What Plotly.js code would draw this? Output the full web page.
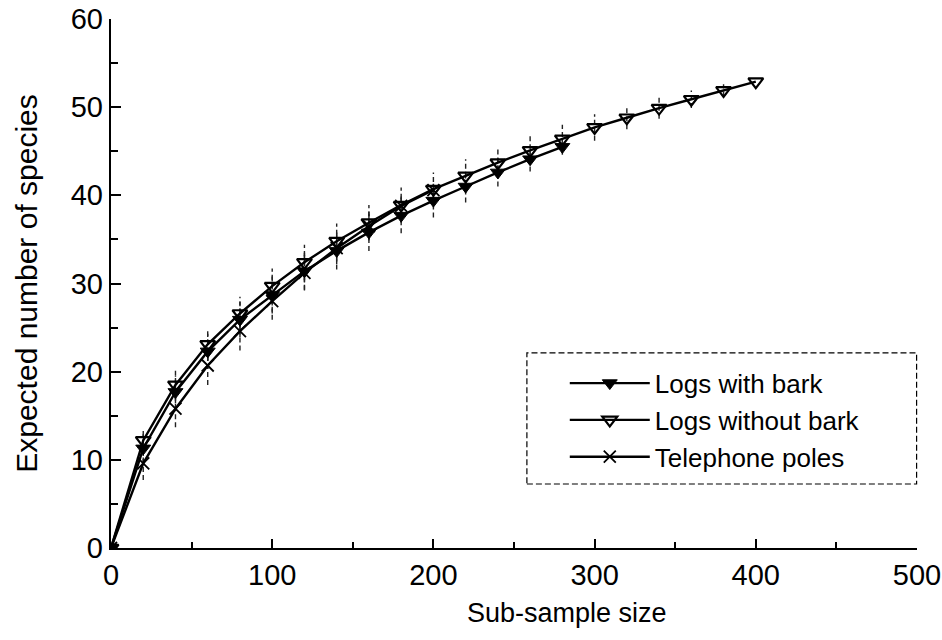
<!DOCTYPE html>
<html>
<head>
<meta charset="utf-8">
<script src="https://cdn.plot.ly/plotly-3.0.1.min.js"></script>
<style>html,body{margin:0;padding:0;background:#fff;}#chart{width:942px;height:640px;}</style>
</head>
<body>
<div id="chart"></div>
<script>
var seriesNames = ["Logs with bark", "Logs without bark", "Telephone poles"];
var xTitle = "Sub-sample size";
var yTitle = "Expected number of species";

var xBark = [0, 20, 40, 60, 80, 100, 120, 140, 160, 180, 200, 220, 240, 260, 280];
var yBark = [0, 11.3, 17.7, 22.3, 25.9, 28.7, 31.4, 33.7, 35.8, 37.7, 39.4, 41.0, 42.6, 44.1, 45.5];
var eBark = [0, 1.6, 1.9, 2.0, 2.0, 2.1, 2.1, 2.1, 2.1, 2.0, 1.9, 1.8, 1.6, 1.4, 0.9];

var xNoBark = [0, 20, 40, 60, 80, 100, 120, 140, 160, 180, 200, 220, 240, 260, 280, 300, 320, 340, 360, 380, 400];
var yNoBark = [0, 12.2, 18.5, 23.1, 26.6, 29.7, 32.4, 34.8, 36.9, 38.9, 40.7, 42.2, 43.7, 45.1, 46.4, 47.7, 48.8, 49.9, 50.9, 51.9, 52.9];
var eNoBark = [0, 1.3, 1.6, 1.8, 1.9, 2.0, 2.0, 2.0, 2.0, 2.0, 1.9, 1.9, 1.8, 1.7, 1.6, 1.5, 1.3, 1.2, 1.0, 0.7, 0.0];

var xPoles = [0, 20, 40, 60, 80, 100, 120, 140, 160, 180, 200];
var yPoles = [0, 9.6, 15.8, 20.7, 24.6, 28.0, 31.2, 34.0, 36.5, 38.8, 40.6];
var ePoles = [0, 1.9, 2.1, 2.2, 2.2, 2.1, 2.0, 1.8, 1.6, 1.3, 0.8];

var xTicks = [0, 100, 200, 300, 400, 500];
var yTicks = [0, 10, 20, 30, 40, 50, 60];

function errSegments(xs, ys, es) {
  var ex = [], ey = [];
  for (var i = 0; i < xs.length; i++) {
    if (es[i] <= 0) continue;
    ex.push(xs[i], xs[i], null);
    ey.push(ys[i] - es[i], ys[i] + es[i], null);
  }
  return {x: ex, y: ey};
}

var traces = [];
[[xBark, yBark, eBark], [xNoBark, yNoBark, eNoBark], [xPoles, yPoles, ePoles]].forEach(function (s) {
  var seg = errSegments(s[0], s[1], s[2]);
  traces.push({
    x: seg.x, y: seg.y, mode: "lines", type: "scatter", showlegend: false, hoverinfo: "skip",
    line: {color: "#222", width: 1.4, dash: "5px,3px"}, connectgaps: false
  });
});

traces.push({
  x: xBark, y: yBark, name: seriesNames[0], type: "scatter", mode: "lines+markers",
  line: {color: "#000", width: 2.4},
  marker: {symbol: "triangle-down", size: 13, color: "#000", line: {color: "#000", width: 1}}
});
traces.push({
  x: xNoBark, y: yNoBark, name: seriesNames[1], type: "scatter", mode: "lines+markers",
  line: {color: "#000", width: 2.4},
  marker: {symbol: "triangle-down-open", size: 13, color: "#000", line: {color: "#000", width: 2.2}}
});
traces.push({
  x: xPoles, y: yPoles, name: seriesNames[2], type: "scatter", mode: "lines+markers",
  line: {color: "#000", width: 2.4},
  marker: {symbol: "x-thin-open", size: 12, color: "#000", line: {color: "#000", width: 1.8}}
});

var fam = "Liberation Sans, Arial, Helvetica, sans-serif";
var axisFont = {family: fam, size: 29, color: "#000"};

var layout = {
  width: 942, height: 640,
  margin: {l: 111, r: 25, t: 19, b: 92},
  paper_bgcolor: "#fff", plot_bgcolor: "#fff",
  showlegend: true,
  font: {family: fam, color: "#000"},
  xaxis: {
    range: [0, 500], tickvals: xTicks, ticktext: xTicks.map(String),
    showgrid: false, zeroline: false, showline: true, linecolor: "#000", linewidth: 2.2,
    ticks: "inside", ticklen: 9, tickwidth: 2, tickcolor: "#000",
    minor: {dtick: 50, ticks: "inside", ticklen: 6, tickwidth: 2, tickcolor: "#000"},
    tickfont: axisFont
  },
  yaxis: {
    range: [0, 60], tickvals: yTicks, ticktext: yTicks.map(String),
    showgrid: false, zeroline: false, showline: true, linecolor: "#000", linewidth: 2.2,
    ticks: "inside", ticklen: 10, tickwidth: 2, tickcolor: "#000",
    minor: {dtick: 5, ticks: "inside", ticklen: 7, tickwidth: 2, tickcolor: "#000"},
    tickfont: axisFont,
    title: {text: yTitle, font: {family: fam, size: 30, color: "#000"}, standoff: 24}
  },
  legend: {
    x: 0.563, y: 0.356, xanchor: "left", yanchor: "top",
    bgcolor: "rgba(0,0,0,0)", borderwidth: 0,
    font: {family: fam, size: 26, color: "#000"},
    itemwidth: 80, tracegroupgap: 0
  },
  annotations: [{
    text: xTitle, xref: "paper", yref: "paper", x: 0.566, y: -0.122,
    xanchor: "center", yanchor: "middle", showarrow: false,
    font: {family: fam, size: 27, color: "#000"}
  }],
  shapes: [{
    type: "rect", xref: "paper", yref: "paper",
    x0: 0.516, x1: 0.9995, y0: 0.121, y1: 0.369,
    line: {color: "#000", width: 1.2, dash: "6px,3px"}, fillcolor: "rgba(0,0,0,0)"
  }]
};

Plotly.newPlot("chart", traces, layout, {displayModeBar: false, staticPlot: true});
</script>
</body>
</html>
